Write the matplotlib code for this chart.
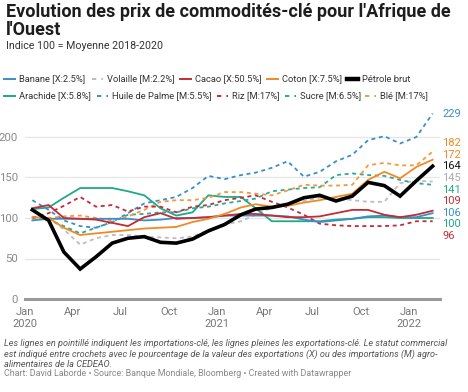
import numpy as np
import pandas as pd
import matplotlib
matplotlib.use("Agg")
import matplotlib.pyplot as plt
from matplotlib.lines import Line2D

plt.rcParams['font.family'] = ['Roboto', 'DejaVu Sans']

# ---------------- data ----------------
months = pd.date_range("2020-01-01", periods=26, freq="MS") + pd.Timedelta(days=14)

banane   = [97, 99, 99, 99, 99, 99, 99, 97, 98, 100, 100, 101, 103, 103, 103, 103, 102, 98, 95, 97, 99, 102, 103, 101, 101, 106]
volaille = [99, 100, 86, 67, 75, 79, 79, 77, 76, 75, 77, 85, 92, 96, 104, 113, 118, 121, 125, 125, 122, 120, 120, 143, 146, 145]
cacao    = [112, 116, 100, 99, 98, 94, 90, 101, 106, 99, 100, 101, 103, 105, 105, 103, 101, 101, 102, 106, 110, 110, 104, 101, 104, 109]
coton    = [101, 100, 88, 79, 81, 83, 85, 87, 88, 89, 95, 99, 105, 113, 117, 114, 115, 119, 122, 126, 130, 147, 157, 149, 163, 172]
petrole  = [110, 97, 58, 37, 52, 69, 75, 77, 70, 69, 74, 84, 92, 104, 111, 113, 117, 125, 128, 121, 127, 144, 140, 127, 146, 164]
arachide = [111, 113, 125, 137, 137, 137, 133, 128, 112, 103, 107, 128, 126, 126, 112, 96, 96, 96, 96, 98, 99, 101, 101, 100, 100, 100]
huile    = [122, 110, 97, 90, 88, 95, 106, 118, 122, 126, 137, 152, 148, 153, 156, 162, 170, 151, 157, 170, 178, 196, 201, 192, 200, 229]
riz      = [100, 106, 115, 126, 114, 116, 108, 114, 114, 107, 114, 116, 122, 125, 128, 120, 113, 104, 93, 91, 90, 90, 90, 91, 96, 96]
sucre    = [101, 98, 90, 81, 88, 95, 104, 105, 107, 107, 112, 114, 118, 121, 124, 133, 135, 137, 138, 153, 155, 153, 152, 147, 143, 141]
ble      = [101, 100, 102, 103, 100, 97, 102, 110, 120, 122, 122, 125, 132, 132, 130, 128, 134, 141, 140, 140, 141, 165, 168, 165, 165, 182]

names = ["Banane [X:2.5%]", "Volaille [M:2.2%]", "Cacao [X:50.5%]", "Coton [X:7.5%]", "Pétrole brut",
         "Arachide [X:5.8%]", "Huile de Palme [M:5.5%]", "Riz [M:17%]", "Sucre [M:6.5%]", "Blé [M:17%]"]
series = [banane, volaille, cacao, coton, petrole, arachide, huile, riz, sucre, ble]

# ---------------- styles ----------------
C_BLUE = "#3a8fc8"
C_GREY = "#bdbdbd"
C_RED = "#c42b36"
C_ORANGE = "#f08a24"
C_BLACK = "#000000"
C_GREEN = "#1eaa85"
C_TEAL = "#2ba89c"
C_ORANGE2 = "#f19a3e"
colors = [C_BLUE, C_GREY, C_RED, C_ORANGE, C_BLACK, C_GREEN, C_BLUE, C_RED, C_TEAL, C_ORANGE2]
label_colors = [C_BLUE, "#aaaaaa", C_RED, C_ORANGE, "#111111", C_GREEN, C_BLUE, C_RED, C_GREEN, C_ORANGE]
dashed = [False, True, False, False, False, False, True, True, True, True]
widths = [1.3, 1.3, 1.3, 1.3, 2.6, 1.3, 1.3, 1.3, 1.3, 1.3]

W, H = 468, 392
fig = plt.figure(figsize=(W / 100, H / 100), dpi=100)

def fx(px):
    return px / W

def fy(py):
    return 1 - py / H

ax_left, ax_right, ax_bottom_px = 25, 440, 299
ymax = 235
ppu = 0.81
ax_top_px = ax_bottom_px - ymax * ppu
ax = fig.add_axes([fx(ax_left), fy(ax_bottom_px), fx(ax_right - ax_left), (ax_bottom_px - ax_top_px) / H])

order = [1, 5, 8, 6, 9, 7, 0, 2, 3, 4]
for i in order:
    ls = (0, (2.2, 2.0)) if dashed[i] else "-"
    ax.plot(months, series[i], color=colors[i], lw=widths[i], linestyle=ls,
            solid_joinstyle="miter", zorder=3 + (2 if i == 4 else 0))

ax.set_xlim(pd.Timestamp("2020-01-01"), pd.Timestamp("2022-03-01"))
ax.set_ylim(0, ymax)
for s in ax.spines.values():
    s.set_visible(False)
ax.axhline(0, color="#9a9a9a", lw=2.2, zorder=6, clip_on=False)
yt = [0, 50, 100, 150, 200]
for v in yt[1:]:
    ax.axhline(v, color="#e6e6e6", lw=0.9, zorder=1)
ax.set_yticks(yt)
ax.set_yticklabels([str(v) for v in yt])
ax.tick_params(axis="y", length=0, pad=5, labelsize=8.2, labelcolor="#8a8a8a")

xt = pd.date_range("2020-01-01", "2022-01-01", freq="QS")
xl = []
for d in xt:
    m = {1: "Jan", 4: "Apr", 7: "Jul", 10: "Oct"}[d.month]
    xl.append(f"{m}\n{d.year}" if d.month == 1 else m)
ax.set_xticks(xt)
ax.set_xticklabels(xl, linespacing=1.25)
ax.tick_params(axis="x", length=0, pad=6, labelsize=8.0, labelcolor="#777777")

# end labels with simple repel
ends = np.array([s[-1] for s in series], dtype=float)
idx = np.argsort(-ends)
pos = ends[idx].copy()
gap = 14.3
for _ in range(500):
    for j in range(len(pos) - 1):
        d = pos[j] - pos[j + 1]
        if d < gap:
            m = (gap - d) / 2
            pos[j] += m
            pos[j + 1] -= m
for j, i in enumerate(idx):
    ax.text(1.005, pos[j], f"{int(ends[i])}", transform=ax.get_yaxis_transform(),
            color=label_colors[i], fontsize=8.0, va="center", ha="left")

# ---------------- header ----------------
fig.text(fx(6), fy(3), "Evolution des prix de commodités-clé pour l'Afrique de\nl'Ouest",
         fontsize=13.0, fontweight="bold", color="#1d1d1d", va="top", ha="left", linespacing=1.0)
fig.text(fx(6), fy(46), "Indice 100 = Moyenne 2018-2020", fontsize=7.7, color="#333333",
         va="center", ha="left")

# legend (manual)
row1_y, row2_y = 79, 96
leg_pos = [(4, row1_y), (92, row1_y), (180, row1_y), (267, row1_y), (347, row1_y),
           (4, row2_y), (97, row2_y), (217, row2_y), (285, row2_y), (365, row2_y)]
for i, (x0, y0) in enumerate(leg_pos):
    ls = (0, (2.2, 2.6)) if dashed[i] else "-"
    lw = 3.2 if i == 4 else 1.4
    ln = Line2D([fx(x0), fx(x0 + 11)], [fy(y0), fy(y0)], transform=fig.transFigure,
                color=colors[i], lw=lw, linestyle=ls)
    fig.add_artist(ln)
    fig.text(fx(x0 + 15), fy(y0), names[i], fontsize=6.75, color="#333333", va="center", ha="left")

# ---------------- footer ----------------
note = ("Les lignes en pointillé indiquent les importations-clé, les lignes pleines les exportations-clé. Le statut commercial\n"
        "est indiqué entre crochets avec le pourcentage de la valeur des exportations (X) ou des importations (M) agro-\n"
        "alimentaires de la CEDEAO.")
fig.text(fx(4), fy(339.5), note, fontsize=6.6, style="italic", color="#555555", va="top", ha="left",
         linespacing=1.15)
fig.text(fx(4), fy(374), "Chart: David Laborde • Source: Banque Mondiale, Bloomberg • Created with Datawrapper",
         fontsize=6.4, color="#888888", va="center", ha="left")

fig.savefig("out.png", dpi=100)
